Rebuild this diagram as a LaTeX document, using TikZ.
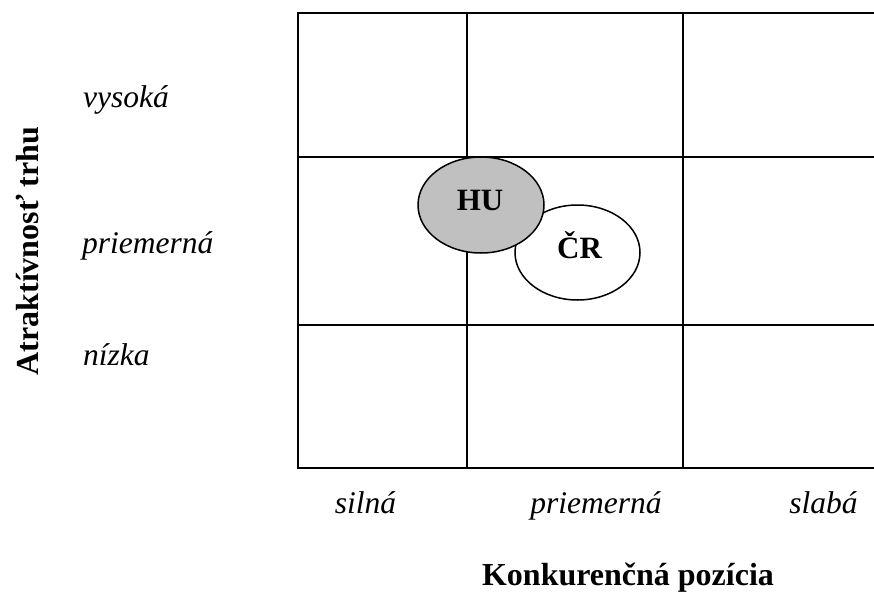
\documentclass[tikz,border=0pt]{standalone}
\usepackage{fontspec}
\setmainfont{Liberation Serif}
\begin{document}
\begin{tikzpicture}[x=1pt,y=-1pt,
  gridline/.style={line width=2pt,black},
  lbl/.style={inner sep=0pt,font=\fontsize{31.5}{37}\selectfont\itshape},
  axislbl/.style={inner sep=0pt,font=\fontsize{32}{38}\selectfont\bfseries},
  tag/.style={inner sep=0pt,anchor=base,font=\fontsize{31}{37}\selectfont\bfseries}]
\useasboundingbox (0,0) rectangle (874,594);
% grid of the portfolio matrix
\coordinate (tl) at (298,13);
\coordinate (bl) at (298,468);
\draw[gridline] (874,13) -- (tl) -- (bl) -- (874,468);
\draw[gridline] (467,13) -- (467,468);
\draw[gridline] (683,13) -- (683,468);
\draw[gridline] (298,157) -- (874,157);
\draw[gridline] (298,325) -- (874,325);
% positions of the two countries
\draw[line width=1.5pt,fill=white] (577.5,252.5) ellipse [x radius=62.5,y radius=47.5];
\node[tag] (cr) at (579.5,258) {ČR};
\draw[line width=1.5pt,fill={rgb,255:red,192;green,192;blue,192}] (481,205) ellipse [x radius=63,y radius=48];
\node[tag] (hu) at (480,210) {HU};
% row labels
\node[lbl,anchor=base west] (r1) at (83,107) {vysoká};
\node[lbl,anchor=base west] (r2) at (82,253) {priemerná};
\node[lbl,anchor=base west] (r3) at (83,365) {nízka};
% column labels
\node[lbl,anchor=base] (c1) at (365.5,513) {silná};
\node[lbl,anchor=base] (c2) at (596,513) {priemerná};
\node[lbl,anchor=base] (c3) at (823.5,513) {slabá};
% axis titles
\node[axislbl,anchor=base] (xt) at (628,585) {Konkurenčná pozícia};
\node[axislbl,rotate=90,anchor=base] (yt) at (38,251) {Atraktívnosť trhu};
\end{tikzpicture}
\end{document}
